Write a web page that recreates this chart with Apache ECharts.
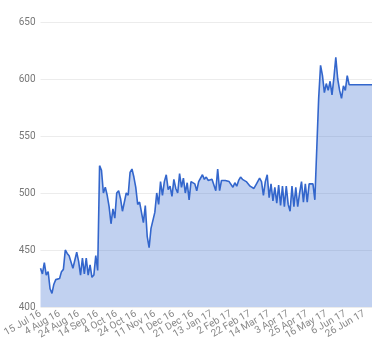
<!DOCTYPE html>
<html>
<head>
<meta charset="utf-8">
<script src="https://cdn.jsdelivr.net/npm/echarts@6/dist/echarts.min.js"></script>
<style>html,body{margin:0;padding:0;background:#fff}#c{width:380px;height:360px}</style>
</head>
<body>
<div id="c"></div>
<script>
var tickLabels = ['15 Jul 16','4 Aug 16','24 Aug 16','14 Sep 16','4 Oct 16','24 Oct 16','11 Nov 16','1 Dec 16','21 Dec 16','13 Jan 17','2 Feb 17','22 Feb 17','14 Mar 17','3 Apr 17','25 Apr 17','16 May 17','6 Jun 17','26 Jun 17'];
var pointsPerTick = 10;
var prices = [
434,429,439,428,431,416,412,420,424,425,
425,431,433,450,447,445,445,434,434,448,
440,428,443,429,443,428,437,426,428,445,
432,524,520,500,505,498,488,473,486,478,
500,502,495,484,484,500,498,518,521,514,
505,490,492,491,474,489,462,452,469,470,
483,500,490,510,498,510,516,503,506,497,
512,504,500,517,505,513,500,509,494,510,
510,508,502,510,511,516,512,514,511,511,
512,511,502,521,502,511,512,511,510,510,
509,505,509,506,511,514,512,511,510,511,
506,506,504,507,510,513,510,498,510,516,
496,508,493,505,491,507,489,506,488,506,
490,484,506,488,505,488,500,510,492,508,
492,508,507,508,494,495,583,612,603,588,
596,590,598,586,601,619,600,590,583,594,
590,603,595,595,595,595,595,595,595,595,
595,595,595,595,595
];
var yTicks = {min: 400, max: 650, step: 50};

var months = {Jan:0,Feb:1,Mar:2,Apr:3,May:4,Jun:5,Jul:6,Aug:7,Sep:8,Oct:9,Nov:10,Dec:11};
var mNames = Object.keys(months);
function parseLabel(s){var p=s.split(' ');return new Date(2000+(+p[2]),months[p[1]],+p[0]);}
function fmt(d){return d.getDate()+' '+mNames[d.getMonth()]+' '+String(d.getFullYear()).slice(2);}
var categories = [];
for (var i = 0; i < prices.length; i++) {
  var t = Math.floor(i / pointsPerTick), k = i % pointsPerTick;
  if (k === 0 && t < tickLabels.length) { categories.push(tickLabels[t]); continue; }
  var d0 = parseLabel(tickLabels[Math.min(t, tickLabels.length-1)]);
  var gap = t + 1 < tickLabels.length ? Math.round((parseLabel(tickLabels[t+1]) - d0) / 86400000) : 20;
  var off = t < tickLabels.length ? Math.round(k * gap / pointsPerTick) : 0;
  var d = new Date(d0.getTime()); d.setDate(d.getDate() + off);
  categories.push(fmt(d));
}

var chart = echarts.init(document.getElementById('c'));
chart.setOption({
  animation: false,
  textStyle: {fontFamily: 'Roboto'},
  grid: {left: 39, right: 8, top: 22, bottom: 53, containLabel: false},
  xAxis: {
    type: 'category', data: categories, boundaryGap: false,
    axisLine: {show: false}, axisTick: {show: false},
    axisLabel: {
      interval: 0,
      formatter: function (value, idx) {
        return (idx % pointsPerTick === 0 && idx / pointsPerTick < tickLabels.length) ? value : '';
      },
      hideOverlap: false,
      rotate: 30, fontSize: 10, color: '#888', margin: 6, fontFamily: 'Roboto'
    },
    splitLine: {show: false}
  },
  yAxis: {
    type: 'value', min: yTicks.min, max: yTicks.max, interval: yTicks.step,
    axisLine: {show: false}, axisTick: {show: false},
    axisLabel: {fontSize: 10, color: '#777', margin: 5, fontFamily: 'Roboto'},
    splitLine: {lineStyle: {color: '#ececec', width: 1}}
  },
  series: [{
    type: 'line', data: prices, showSymbol: false, symbol: 'none',
    lineStyle: {color: '#3366cc', width: 1.6},
    areaStyle: {color: '#3366cc', opacity: 0.3},
    itemStyle: {color: '#3366cc'}
  }]
});
</script>
</body>
</html>
